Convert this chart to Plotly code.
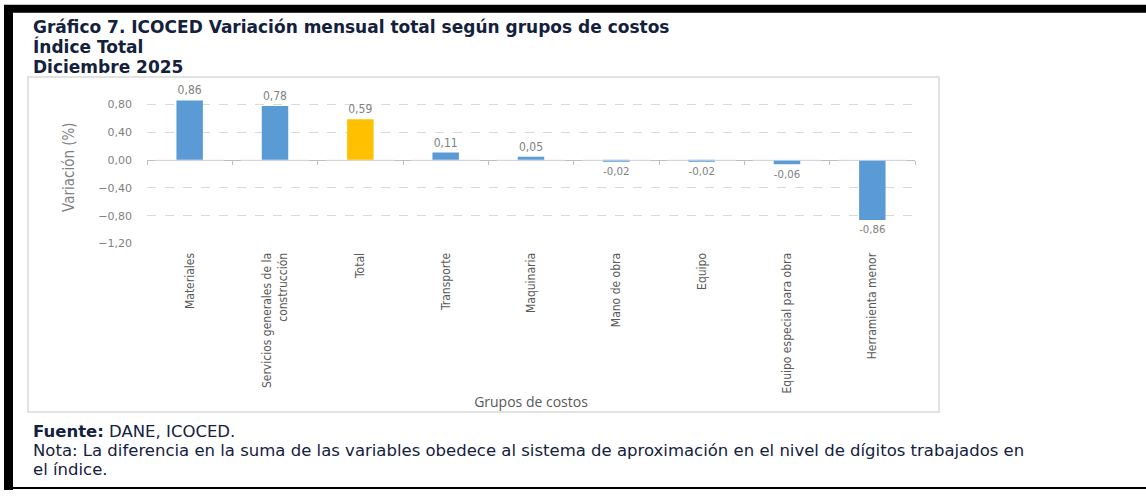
import plotly.graph_objects as go

categories = ["Materiales", "Servicios generales de la<br>construcción", "Total", "Transporte",
              "Maquinaria", "Mano de obra", "Equipo", "Equipo especial para obra", "Herramienta menor"]
values = [0.86, 0.78, 0.59, 0.11, 0.05, -0.02, -0.02, -0.06, -0.86]
bar_colors = ["#5B9BD5", "#5B9BD5", "#FFC000", "#5B9BD5", "#5B9BD5", "#5B9BD5", "#5B9BD5", "#5B9BD5", "#5B9BD5"]
labels = ["0,86", "0,78", "0,59", "0,11", "0,05", "-0,02", "-0,02", "-0,06", "-0,86"]
y_ticks = [0.8, 0.4, 0.0, -0.4, -0.8, -1.2]

W, H = 1146, 497
YMIN, YMAX = -1.2, 1.0
x0, x1 = 147 / W, 915 / W
yd0, yd1 = (H - 247) / H, (H - 92) / H
zero_pos = yd0 + (0 - YMIN) / (YMAX - YMIN) * (yd1 - yd0)

GRAY = "#595959"
LGRAY = "#7f7f7f"
NAVY = "#14213d"
COND = "Liberation Sans Narrow, DejaVu Sans Condensed, Arial Narrow, sans-serif"

fig = go.Figure()
fig.add_trace(go.Bar(
    x=categories, y=values, marker=dict(color=bar_colors, line=dict(width=0)),
    text=labels, textposition="outside", cliponaxis=False,
    textfont=dict(family=COND, size=12, color=LGRAY),
    hoverinfo="skip", showlegend=False, width=0.31,
))
# invisible trace to carry the category tick marks on the zero line
fig.add_trace(go.Bar(x=categories, y=[0] * len(categories), xaxis="x2", yaxis="y",
                     marker=dict(color="rgba(0,0,0,0)"), hoverinfo="skip", showlegend=False))

fig.update_layout(
    width=W, height=H, margin=dict(l=0, r=0, t=0, b=0),
    paper_bgcolor="white", plot_bgcolor="white",
    separators=", ", barmode="overlay",
    xaxis=dict(domain=[x0, x1], type="category", categoryarray=categories,
               showgrid=False, showline=False, zeroline=False, ticks="",
               tickangle=-90, ticklabelstandoff=6,
               tickfont=dict(family=COND, size=12, color=GRAY),
               title=dict(text="Grupos de costos", standoff=4,
                          font=dict(family="Open Sans, sans-serif", size=14, color=GRAY))),
    xaxis2=dict(domain=[x0, x1], type="category", categoryarray=categories,
                overlaying="x", anchor="free", position=zero_pos,
                showgrid=False, showline=False, zeroline=False, showticklabels=False,
                ticks="outside", ticklen=4, tickcolor="#bfbfbf", tickson="boundaries"),
    yaxis=dict(domain=[yd0, yd1], range=[YMIN, YMAX], tickvals=y_ticks,
               tickformat=".2f", showgrid=True, gridcolor="#d9d9d9", griddash="dash",
               zeroline=True, zerolinecolor="#bfbfbf", zerolinewidth=1,
               showline=False, ticks="", ticklabelstandoff=14,
               tickfont=dict(family="DejaVu Sans, sans-serif", size=11, color=LGRAY),
               title=dict(text="Variación (%)", standoff=20,
                          font=dict(family=COND, size=15, color=LGRAY))),
)

# frame lines
fig.add_shape(type="rect", xref="paper", yref="paper", x0=28 / W, x1=939 / W,
              y0=(H - 418) / H, y1=(H - 78) / H, line=dict(color="#d9d9d9", width=1.5))
fig.add_shape(type="line", xref="paper", yref="paper", x0=8.5 / W, x1=8.5 / W, y0=0, y1=(H - 5) / H,
              line=dict(color="black", width=9))
fig.add_shape(type="line", xref="paper", yref="paper", x0=4 / W, x1=1, y0=(H - 9) / H, y1=(H - 9) / H,
              line=dict(color="black", width=8))
fig.add_shape(type="line", xref="paper", yref="paper", x0=4 / W, x1=1, y0=(H - 495) / H, y1=(H - 495) / H,
              line=dict(color="black", width=2))

TF = "DejaVu Sans, sans-serif"
for txt, yy in [("<b>Gráfico 7. ICOCED Variación mensual total según grupos de costos</b>", 27),
                ("<b>Índice Total</b>", 47.5), ("<b>Diciembre 2025</b>", 68)]:
    fig.add_annotation(text=txt, x=31 / W, y=(H - yy) / H, xref="paper", yref="paper",
                       xanchor="left", yanchor="middle", showarrow=False,
                       font=dict(family=TF, size=17, color=NAVY))
for txt, yy in [("<b>Fuente:</b> DANE, ICOCED.", 438),
                ("Nota: La diferencia en la suma de las variables obedece al sistema de aproximación en el nivel de dígitos trabajados en", 457),
                ("el índice.", 476)]:
    fig.add_annotation(text=txt, x=31 / W, y=(H - yy) / H, xref="paper", yref="paper",
                       xanchor="left", yanchor="middle", showarrow=False,
                       font=dict(family=TF, size=16.5, color=NAVY))

fig.write_html("out.html", config={"displayModeBar": False},
               post_script="document.body.style.margin='0';document.body.style.overflow='hidden';")
